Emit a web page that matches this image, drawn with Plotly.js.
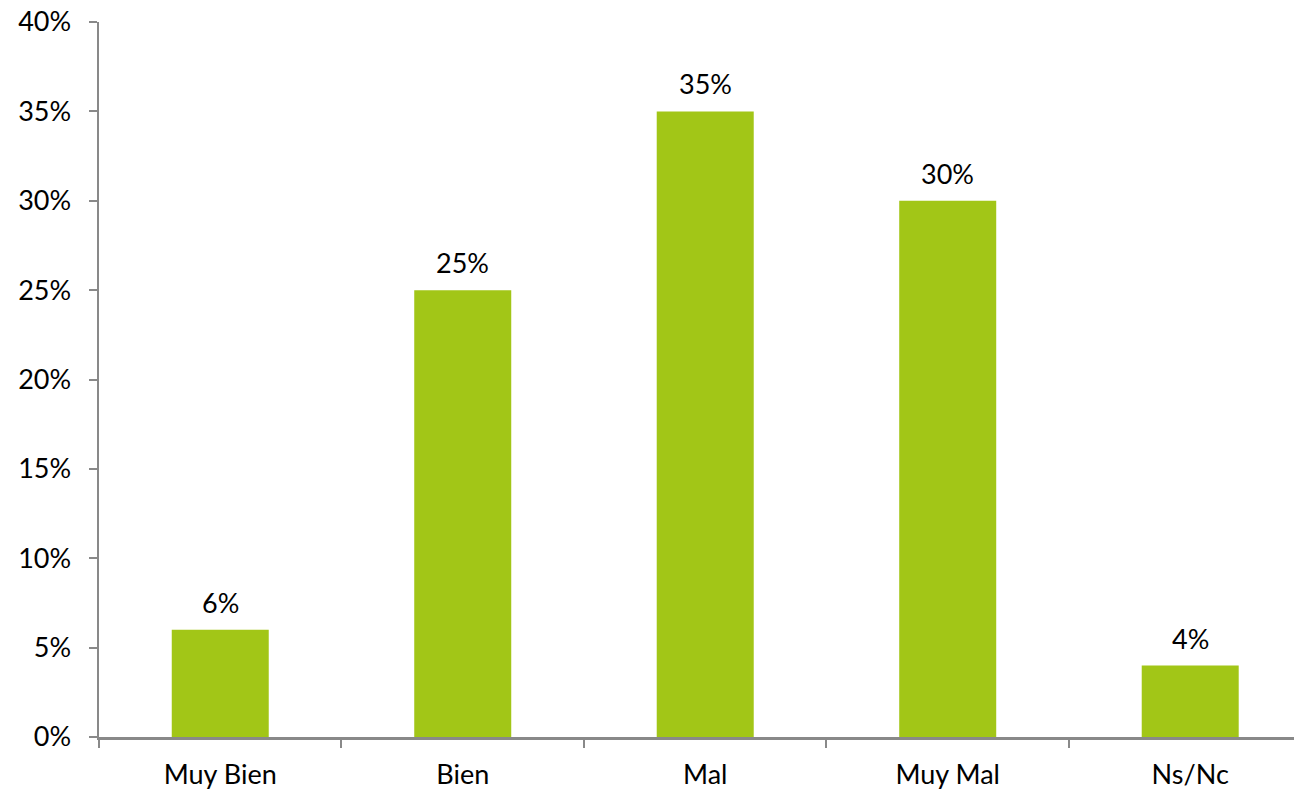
<!DOCTYPE html>
<html>
<head>
<meta charset="utf-8">
<script src="https://cdn.plot.ly/plotly-3.0.1.min.js"></script>
<style>html,body{margin:0;padding:0;background:#fff;}#chart{width:1294px;height:792px;}</style>
</head>
<body>
<div id="chart"></div>
<script>
const categories = ["Muy Bien", "Bien", "Mal", "Muy Mal", "Ns/Nc"];
const values = [0.06, 0.25, 0.35, 0.30, 0.04];
const valueLabels = ["6%", "25%", "35%", "30%", "4%"];
const yTickValues = [0, 0.05, 0.10, 0.15, 0.20, 0.25, 0.30, 0.35, 0.40];
const yTickLabels = ["0%", "5%", "10%", "15%", "20%", "25%", "30%", "35%", "40%"];

const fontFam = "Lato, 'Open Sans', sans-serif";
const fontSize = 27;
const trace = {
  type: "bar",
  x: categories,
  y: values,
  marker: {color: "#A2C617"},
  width: 0.4,
  hoverinfo: "none"
};
const annotations = categories.map((c, i) => ({
  x: c, y: values[i], xref: "x", yref: "y",
  text: valueLabels[i], showarrow: false,
  yanchor: "bottom", xanchor: "center", yshift: 9,
  font: {family: fontFam, size: fontSize, color: "#000"}
}));
const axisColor = "#898989";
const layout = {
  width: 1294, height: 792,
  margin: {l: 99, r: 0, t: 22, b: 55},
  paper_bgcolor: "#fff", plot_bgcolor: "#fff",
  showlegend: false,
  font: {family: fontFam, size: fontSize, color: "#000"},
  annotations: annotations,
  xaxis: {
    range: [-0.5, 4.428],
    showline: true, linecolor: axisColor, linewidth: 2.5,
    ticks: "outside", tickson: "boundaries", ticklen: 8, tickwidth: 2, tickcolor: axisColor,
    showgrid: false, zeroline: false,
    ticklabelstandoff: 12,
    tickfont: {family: fontFam, size: fontSize, color: "#000"},
    fixedrange: true
  },
  yaxis: {
    range: [0, 0.4],
    tickvals: yTickValues, ticktext: yTickLabels,
    showline: true, linecolor: axisColor, linewidth: 2.5,
    ticks: "outside", ticklen: 8, tickwidth: 2, tickcolor: axisColor,
    showgrid: false, zeroline: false,
    ticklabelstandoff: 12,
    tickfont: {family: fontFam, size: fontSize, color: "#000"},
    fixedrange: true
  }
};
Plotly.newPlot("chart", [trace], layout, {displayModeBar: false, staticPlot: true});
</script>
</body>
</html>
